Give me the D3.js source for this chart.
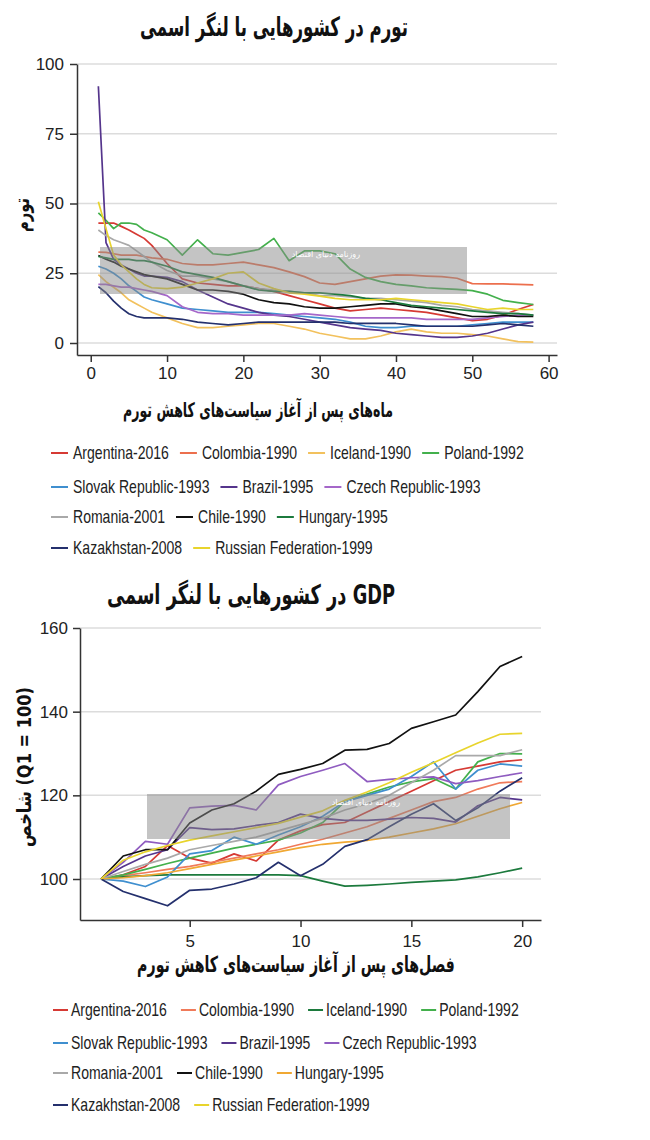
<!DOCTYPE html>
<html><head><meta charset="utf-8">
<script src="https://cdn.jsdelivr.net/npm/d3@7/dist/d3.min.js"></script>
<style>body{margin:0;background:#fff}</style>
</head><body><svg id="c" width="650" height="1140"></svg>
<script>
// ---------- DATA ----------
const seriesNames = ["Argentina-2016","Colombia-1990","Iceland-1990","Poland-1992","Slovak Republic-1993","Brazil-1995","Czech Republic-1993","Romania-2001","Chile-1990","Hungary-1995","Kazakhstan-2008","Russian Federation-1999"];
const legendRows = [[0,1,2,3],[4,5,6],[7,8,9],[10,11]];

// Inflation chart (months after start)
const inflMonths = [1,2,3,4,5,6,7,8,10,12,14,16,18,20,22,24,26,28,30,32,34,36,38,40,42,44,46,48,50,52,54,56,58];
const inflArgentina = [43,43,43,41.8,40.5,39,37.5,35,28.5,23,21.5,21,20.5,20.5,19.5,18.5,17,15.5,14,12.5,11.5,12,12.5,12,11.5,11,10,9,8,8.5,10,12,13.8];
const inflColombia  = [32.6,32.5,32,31.5,31.5,31.5,31,30.5,30,28.5,28,28,28.5,29,28,27,25.5,23.8,21.5,21,22,23,24,24.4,24.3,24,23.8,23.2,21.3,21.2,21.2,21,20.8];
const inflIceland   = [24.5,22,20,18,15.5,14,12.5,11,9,7,5.5,5.5,6,6.5,7,7,6,5,3.5,2.5,1.5,1.5,2.5,4,5,4,3.5,3.5,3,2.5,1.5,0.5,0.3];
const inflPoland    = [46.6,44,41,43,43,42.5,40.5,39.5,37,31.5,37,32,31.5,32.5,33.5,37.5,29.5,33,33,32,26.5,23.5,22,21,20.5,19.8,19.5,19.2,18.8,17.5,15.3,14.5,13.8];
const inflSlovak    = [27.5,26.5,25,23,20.5,18.5,16.5,15.5,14,12.5,12,11.5,11,11,11,10.5,10,9.5,9,8.5,7.5,6,5.5,5.5,6,6,6,6,6.5,7,7.5,7.5,7.5];
const inflBrazil    = [92,36,30,28,26.5,25,24,24,23.5,22,19,16.5,14,12.5,11,10,9.5,8.5,7.5,6.5,5.5,5,4.5,3.5,3,2.5,2,2,2.5,3.5,5,6.5,7.5];
const inflCzech     = [21,21,20.5,20,20,19.5,19,18.5,17,13,11,10.5,10.5,10,10,10,10,10.5,10,9.5,9,9,9,9,9,8.5,8.5,8.5,8.5,9,9.5,10,10];
const inflRomania   = [40.5,38.5,37,36,35,33,31,29,26,24,24,23,22,20.5,19.5,19,18.5,18,17,17,16.5,16,16,15.5,15,14.5,13.5,13,12,11.5,11,10.5,10];
const inflChile     = [31.4,30,29,27.5,26.5,25.5,24.5,24,23,21,19,19,18.5,17.5,15.5,14.5,14,13,12.5,12.5,13,13.5,14,14,13,12.5,11.5,10.5,9.5,9.5,10,9.5,9.5];
const inflHungary   = [31,30.5,30,30,30,29.5,29.5,29,27.5,25.5,24.5,23.5,22,20.5,19,18.5,18.5,18,18,17.5,17,16,15.5,14.5,13.5,13,12.5,12,11.5,11,10.5,10.5,10];
const inflKazakh    = [20.2,18,15,12.5,10.5,9.5,9,9,9,8.5,7.5,7,6.5,7,7.5,7.5,7.5,7.5,7.5,7.5,7,7,7,7,6.5,6,6,6,6,6.5,7,6.5,6];
const inflRussia    = [50.6,41,31.5,28,25.5,23,21,19.8,19.5,20,21.5,23,25,25.5,21.5,19.5,18,17.5,16.8,16,15.5,15.5,15.5,16,15.5,15,14.5,14,13,12,12.5,12,12];
const inflSeries = [inflArgentina,inflColombia,inflIceland,inflPoland,inflSlovak,inflBrazil,inflCzech,inflRomania,inflChile,inflHungary,inflKazakh,inflRussia];
const inflYTicks = [0,25,50,75,100];
const inflXTicks = [0,10,20,30,40,50,60];

// GDP chart (quarters after start, Q1 = 100)
const gdpQuarters = [1,2,3,4,5,6,7,8,9,10,11,12,13,14,15,16,17,18,19,20];
const gdpArgentina = [100,101,103,108,105,103.8,106,104.3,109.3,111.5,113,113.5,116,118.5,121,123.5,126,127,128,128.5];
const gdpColombia  = [100,100.8,101.5,102.3,103,104,105,106,107,108.3,109.5,111,112.5,114.5,116.5,118.5,119.5,121.5,123,123.3];
const gdpIceland   = [100,100.5,100.8,101,101,101,101,101,101,100.8,99.5,98.3,98.5,98.8,99.2,99.5,99.8,100.5,101.5,102.6];
const gdpPoland    = [100,101,102.3,103.7,105,106.2,107.4,108.3,109.3,111,113.5,118.5,120.3,122,123.2,124,121.5,128,130,129.9];
const gdpSlovak    = [100,99.5,98.2,100.5,106,106.8,110,108.3,110.5,112.5,115,118.5,120,121.5,124.5,128,121.5,126,127.5,127];
const gdpBrazil    = [100,103,105.5,107,112.3,111.8,112,112.8,113.5,115.5,114.5,114,114,114.3,114.7,114.5,113.6,117.5,119.5,118.9];
const gdpCzech     = [100,104,109,108.3,117,117.4,117.6,116.5,122.5,124.5,126,127.6,123.3,123.8,124.2,124.4,122.8,123.5,124.5,125.4];
const gdpRomania   = [100,101.8,103.5,105,107,108,109,110,111.5,113,114.5,116.5,118,120,123,126,129.5,129.5,129.5,130.9];
const gdpChile     = [100,105.5,107,107,113.4,116.5,118,121,125,126.2,127.6,130.8,131,132.4,136,137.6,139.2,144.8,150.8,153.2];
const gdpHungary   = [100,100.3,100.8,101.5,102.5,103.5,104.5,105.5,106.5,107.5,108.3,108.8,109.2,110,111,112,113.2,115,116.8,118.3];
const gdpKazakh    = [100,97,95.3,93.6,97.3,97.6,98.8,100.3,104,100.8,103.5,107.8,109.4,112.5,115.5,118,114,117,121,124.2];
const gdpRussia    = [100,104.5,106.5,108,109.3,110.3,111.3,112.3,113.3,114.8,116.3,118.8,120.8,123,125.5,127.8,130.2,132.5,134.6,134.8];
const gdpSeries = [gdpArgentina,gdpColombia,gdpIceland,gdpPoland,gdpSlovak,gdpBrazil,gdpCzech,gdpRomania,gdpChile,gdpHungary,gdpKazakh,gdpRussia];
const gdpYTicks = [100,120,140,160];
const gdpXTicks = [5,10,15,20];

// colours
const inflColors = ["#d63a34","#ec6f4d","#f2c15d","#43b04c","#3f8fcf","#55358c","#a567c9","#a9a9a9","#111111","#1c7a3d","#24306d","#e8d42c"];
const gdpColors  = ["#d63a34","#f07a5a","#1c7a3d","#43b04c","#3f8fcf","#55358c","#8f5cc0","#a9a9a9","#111111","#f0a833","#24306d","#e8d42c"];

// ---------- DRAW ----------
const svg = d3.select("#c");
const FA = "'DejaVu Sans', sans-serif";
const LA = "'Liberation Sans', Arial, sans-serif";

// Persian label, condensed horizontally to a target width
function faLabel(str, cx, cy, width, fs, rot){
  const g = svg.append("g");
  const t = g.append("text").attr("text-anchor","middle").attr("font-family",FA)
    .attr("font-weight","bold").attr("font-size",fs).attr("fill","#111").text(str);
  let L = t.node().getComputedTextLength();
  let s = width / L;
  if (s < 0.62) { fs = fs * s / 0.62; t.attr("font-size", fs); L = t.node().getComputedTextLength(); s = width / L; }
  g.attr("transform", `translate(${cx},${cy})` + (rot ? ` rotate(${rot})` : "") + ` scale(${s},1)`);
  return g;
}

function chart(o){
  const g = svg.append("g");
  const x = d3.scaleLinear().domain(o.xDom).range(o.xRange);
  const y = d3.scaleLinear().domain(o.yDom).range(o.yRange);
  g.append("g").selectAll("line").data(o.yTicks).join("line")
    .attr("x1", o.xRange[0]).attr("x2", o.xRange[1])
    .attr("y1", d=>y(d)).attr("y2", d=>y(d))
    .attr("stroke", "#dcdcdc").attr("stroke-width", 1.5);
  const line = d3.line().x(d=>x(d[0])).y(d=>y(d[1]));
  g.append("g").selectAll("path").data(o.series).join("path")
    .attr("d", s=>line(d3.zip(o.xs, s)))
    .attr("fill","none").attr("stroke",(s,i)=>o.colors[i])
    .attr("stroke-width",1.7).attr("stroke-linejoin","round");
  g.append("rect").attr("x",o.wm[0]).attr("y",o.wm[1]).attr("width",o.wm[2]-o.wm[0]).attr("height",o.wm[3]-o.wm[1])
    .attr("fill","#8a8a8a").attr("opacity",0.5);
  const ax = g.append("g").attr("transform",`translate(0,${o.yRange[0]})`)
    .call(d3.axisBottom(x).tickValues(o.xTicks).tickSize(7).tickSizeOuter(0).tickPadding(o.xPad));
  const ay = g.append("g").attr("transform",`translate(${o.xRange[0]},0)`)
    .call(d3.axisLeft(y).tickValues(o.yTicks).tickSize(7).tickSizeOuter(0).tickPadding(o.yPad));
  [ax,ay].forEach(a=>{
    a.select(".domain").attr("stroke","#333").attr("stroke-width",1.5);
    a.selectAll(".tick line").attr("stroke","#333").attr("stroke-width",1.5);
    a.selectAll(".tick text").attr("font-family",LA).attr("font-size",17).attr("fill","#222");
  });
  return {x,y,g};
}

function legend(colors, x0, rowYs, markLen, markGap, itemGap){
  const g = svg.append("g");
  legendRows.forEach((row,ri)=>{
    let cx = x0;
    const cy = rowYs[ri];
    row.forEach(i=>{
      g.append("line").attr("x1",cx).attr("x2",cx+markLen).attr("y1",cy).attr("y2",cy)
        .attr("stroke",colors[i]).attr("stroke-width",2);
      const tg = g.append("g").attr("transform",`translate(${cx+markLen+markGap},${cy}) scale(0.78,1)`);
      const t = tg.append("text").attr("font-family",LA).attr("font-size",18).attr("fill","#222")
        .attr("dy","0.36em").text(seriesNames[i]);
      const w = t.node().getComputedTextLength()*0.78;
      cx = cx + markLen + markGap + w + itemGap;
    });
  });
}

// ---- Top: inflation ----
faLabel("تورم در کشورهایی با لنگر اسمی", 274, 36, 268, 27);

chart({xDom:[-1.8,61.1], xRange:[77,557], yDom:[-4.3,100], yRange:[355,64],
  xs: inflMonths, series: inflSeries, colors: inflColors, yTicks: inflYTicks, xTicks: inflXTicks,
  xPad:5, yPad:6, wm:[100,247,467,294]});

svg.append("text").attr("x",360).attr("y",257).attr("font-family",FA).attr("font-size",8)
  .attr("fill","#fff").attr("text-anchor","end").text("روزنامه دنیای اقتصاد");

faLabel("تورم", 29, 215, 34, 20, -90);
faLabel("ماه\u200cهای پس از آغاز سیاست\u200cهای کاهش تورم", 258, 417, 270, 21);

legend(inflColors, 51, [453,487,517,548], 17, 5, 11);

// ---- Bottom: GDP ----
faLabel("\u202BGDP در کشورهایی با لنگر اسمی\u202C", 251, 604, 288, 27);

chart({xDom:[0.05,20.85], xRange:[80,541], yDom:[90.2,160], yRange:[920,628],
  xs: gdpQuarters, series: gdpSeries, colors: gdpColors, yTicks: gdpYTicks, xTicks: gdpXTicks,
  xPad:8, yPad:5, wm:[147,794,510,839]});

svg.append("text").attr("x",400).attr("y",805).attr("font-family",FA).attr("font-size",8)
  .attr("fill","#fff").attr("text-anchor","end").text("روزنامه دنیای اقتصاد");

faLabel("شاخص (Q1 = 100)", 31, 767, 160, 20, -90);
faLabel("فصل\u200cهای پس از آغاز سیاست\u200cهای کاهش تورم", 296, 972, 318, 22);

legend(gdpColors, 53, [1010,1043,1073,1105], 15, 3, 14);
</script></body></html>
